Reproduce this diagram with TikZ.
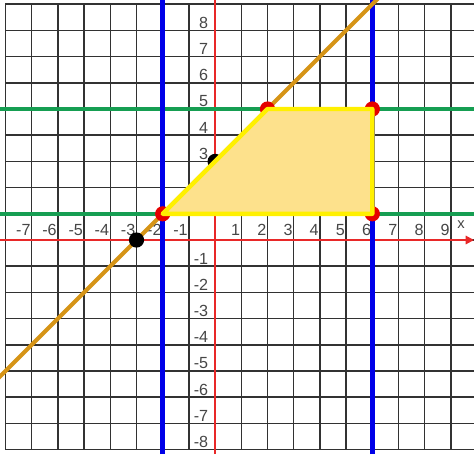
\documentclass[tikz,border=0pt]{standalone}
\usepackage{fontspec}
\setmainfont{Liberation Sans}
\usetikzlibrary{arrows.meta}
\definecolor{gridgray}{RGB}{50,50,50}
\definecolor{axisred}{RGB}{232,40,40}
\definecolor{hgreen}{RGB}{22,158,82}
\definecolor{vblue}{RGB}{0,0,232}
\definecolor{lineorange}{RGB}{214,148,22}
\definecolor{regionfill}{RGB}{253,225,140}
\definecolor{regionedge}{RGB}{255,240,0}
\definecolor{lblgray}{RGB}{70,70,70}
\tikzset{
    gridline/.style={gridgray, line width=1.6pt},
    axisline/.style={axisred, line width=2.2pt},
    hbound/.style={hgreen, line width=4.5pt},
    vbound/.style={vblue, line width=5pt},
    slantline/.style={lineorange, line width=4.5pt},
    region/.style={fill=regionfill, draw=regionedge, line width=4.8pt, line join=round},
    vertexdot/.style={circle, fill=red!90!black, minimum size=0.58cm, inner sep=0pt},
    blackdot/.style={circle, fill=black, minimum size=0.58cm, inner sep=0pt},
    xlbl/.style={anchor=south east, inner sep=0pt, text=lblgray, font=\fontsize{17.5}{17.5}\selectfont},
    ylbl/.style={anchor=south east, inner sep=0pt, text=lblgray, font=\fontsize{17.5}{17.5}\selectfont}
}

\begin{document}
\begin{tikzpicture}
    \useasboundingbox[fill=white] (-8.21,-8.17) rectangle (9.88,9.16);
    \clip (-8.21,-8.17) rectangle (9.88,9.16);
    % grid
    \foreach \i in {-8,...,9} {
        \draw[gridline] (\i,-8) -- (\i,9);
        \draw[gridline] (-8,\i) -- (9.88,\i);
    }
    % axes
    \coordinate (xl) at (-8.21,0);
    \coordinate (xr) at (9.88,0);
    \coordinate (yb) at (0,-8.17);
    \coordinate (yt) at (0,9.16);
    \draw[axisline, -{Triangle[length=9pt, width=9pt]}] (xl) -- (xr);
    \draw[axisline] (yb) -- (yt);
    \node[text=lblgray, font=\fontsize{16}{16}\selectfont, anchor=south, inner sep=0pt] (xname) at (9.39,0.42) {x};
    % labels
    \foreach \i in {-7,...,-1,1,2,...,9}
        \node[xlbl] (xt\i) at (\i-0.04,0.15) {\i};
    \foreach \i in {-8,...,-1,3,4,...,8}
        \node[ylbl] (yt\i) at (-0.26,\i+0.07) {\i};
    % boundary lines
    \draw[hbound] (-8.21,1) -- (9.88,1);
    \draw[hbound] (-8.21,5) -- (9.88,5);
    \draw[vbound] (-2,-8.17) -- (-2,9.16);
    \draw[vbound] (6,-8.17) -- (6,9.16);
    % line y = x + 3
    \coordinate (ls) at (-9,-6);
    \coordinate (le) at (7,10);
    \draw[slantline] (ls) -- (le);
    % points
    \coordinate (A) at (-2,1);
    \coordinate (B) at (2,5);
    \coordinate (C) at (6,5);
    \coordinate (D) at (6,1);
    \node[blackdot] (P) at (-3,0) {};
    \node[blackdot] (Q) at (0,3) {};
    \foreach \v in {A,B,C,D}
        \node[vertexdot] (dot\v) at (\v) {};
    % feasible region
    \draw[region] (A) -- (B) -- (C) -- (D) -- cycle;
\end{tikzpicture}
\end{document}
